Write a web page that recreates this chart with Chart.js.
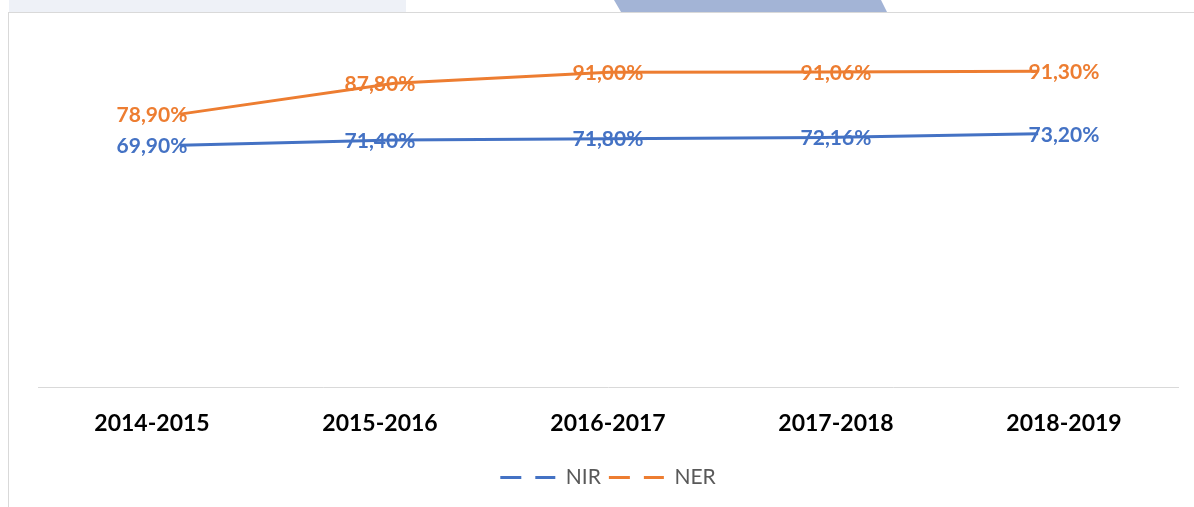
<!DOCTYPE html>
<html>
<head>
<meta charset="utf-8">
<script src="https://cdn.jsdelivr.net/npm/chart.js@4.4.0/dist/chart.umd.min.js"></script>
<style>
  html, body { margin: 0; padding: 0; background: #fff; }
  body { width: 1194px; height: 507px; position: relative; overflow: hidden; }
  #band { position: absolute; left: 9px; top: 0; width: 397px; height: 12px; background: #eef1f7; }
  #trap { position: absolute; left: 614px; top: 0; width: 273px; height: 12px; background: #a3b4d6;
          clip-path: polygon(0 0, 267px 0, 273px 12px, 7px 12px); }
  #frame { position: absolute; left: 8px; top: 12px; width: 1186px; height: 495px;
           border-top: 1px solid #d9d9d9; border-left: 1px solid #d9d9d9; }
  #chart { position: absolute; left: 0; top: 0; }
</style>
</head>
<body>
<div id="band"></div>
<div id="trap"></div>
<div id="frame"><canvas id="chart" width="1185" height="494"></canvas></div>
<script>
// data
const years = ["2014-2015", "2015-2016", "2016-2017", "2017-2018", "2018-2019"];
const nir = [69.90, 71.40, 71.80, 72.16, 73.20];
const ner = [78.90, 87.80, 91.00, 91.06, 91.30];

const blue = "#4472c4";
const orange = "#ed7d31";

// labels like 69,90%
function fmt(v) {
  return v.toFixed(2).replace(".", ",") + "%";
}

// draw the value labels centred on the category
const valueLabels = {
  id: "valueLabels",
  afterDatasetsDraw(chart) {
    const ctx = chart.ctx;
    const xs = chart.scales.x;
    const ys = chart.scales.y;
    ctx.save();
    ctx.font = "bold 21px Lato";
    ctx.textAlign = "center";
    ctx.textBaseline = "middle";
    chart.data.datasets.forEach(ds => {
      ctx.fillStyle = ds.borderColor;
      ds.data.forEach((p, i) => {
        ctx.fillText(fmt(p.y), xs.getPixelForValue(i), ys.getPixelForValue(p.y) + 1);
      });
    });
    ctx.restore();
  }
};

const ctx = document.getElementById("chart").getContext("2d");
new Chart(ctx, {
  type: "line",
  data: {
    datasets: [
      {
        label: "NIR",
        data: nir.map((v, i) => ({ x: i, y: v })),
        borderColor: blue,
        backgroundColor: blue,
        borderWidth: 3,
        pointRadius: 0,
        tension: 0,
        xAxisID: "x2"
      },
      {
        label: "NER",
        data: ner.map((v, i) => ({ x: i, y: v })),
        borderColor: orange,
        backgroundColor: orange,
        borderWidth: 3,
        pointRadius: 0,
        tension: 0,
        xAxisID: "x2"
      }
    ]
  },
  options: {
    responsive: false,
    animation: false,
    layout: { padding: { left: 29, right: 16, top: 28, bottom: 9 } },
    scales: {
      x: {
        type: "category",
        labels: years,
        offset: true,
        grid: { display: false, drawTicks: false },
        border: { display: true, color: "#d9d9d9", width: 1 },
        ticks: {
          color: "#000",
          font: { family: "Lato", size: 23, weight: "bold", lineHeight: 0.5 },
          padding: 30,
          maxRotation: 0
        }
      },
      x2: {
        type: "linear",
        display: false,
        min: -0.662,
        max: 4.652
      },
      y: {
        display: false,
        min: 0,
        max: 100
      }
    },
    plugins: {
      tooltip: { enabled: false },
      legend: {
        position: "bottom",
        labels: {
          color: "#595959",
          font: { family: "Lato", size: 21 },
          usePointStyle: true,
          pointStyle: "line",
          pointStyleWidth: 55,
          padding: 8,
          generateLabels(chart) {
            const items = Chart.defaults.plugins.legend.labels.generateLabels(chart);
            items.forEach(it => {
              it.lineDash = [21, 14];
              it.lineWidth = 3;
              it.pointStyle = "line";
            });
            return items;
          }
        }
      }
    }
  },
  plugins: [valueLabels]
});
</script>
</body>
</html>
